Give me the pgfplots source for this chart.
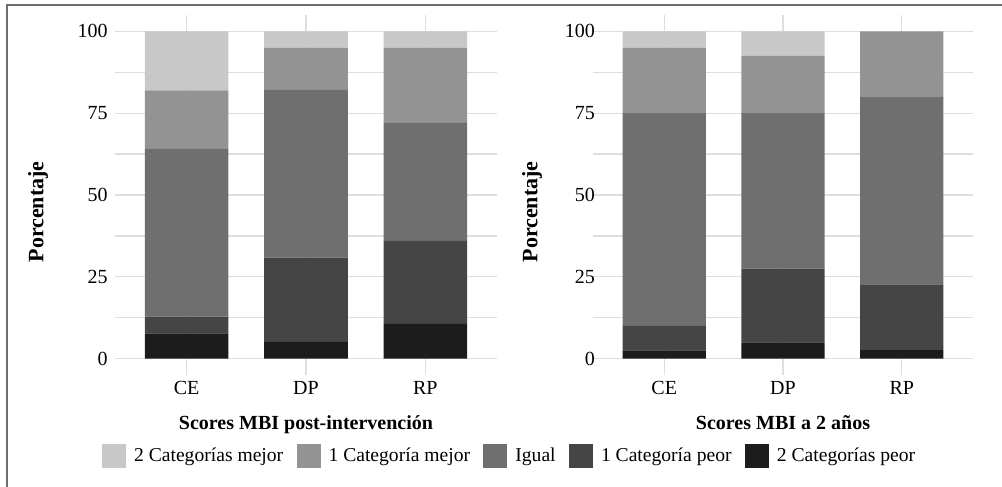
\documentclass[border=0pt]{standalone}
\usepackage{fontspec}
\setmainfont{Liberation Serif}
\usepackage{pgfplots}
\usepackage{pgfplotstable}
\pgfplotsset{compat=1.18}

\definecolor{mejorB}{HTML}{C8C8C8}
\definecolor{mejorA}{HTML}{939393}
\definecolor{igual}{HTML}{6F6F6F}
\definecolor{peorA}{HTML}{454545}
\definecolor{peorB}{HTML}{1C1C1C}
\definecolor{gridc}{HTML}{DEDEDE}
\definecolor{framec}{HTML}{6E6E6E}

% porcentajes por grupo, de abajo hacia arriba
\pgfplotstableread{
x peorB peorA igual mejorA mejorB
0 7.7  5.1  51.3 17.9 18.0
1 5.1  25.8 51.2 12.9 5.0
2 10.6 25.4 36.0 23.0 5.0
}\post
\pgfplotstableread{
x peorB peorA igual mejorA mejorB
0 2.5 7.5  65.0 20.0 5.0
1 5.0 22.5 47.5 17.5 7.5
2 2.6 20.1 57.4 19.9 0.0
}\dosanos

\pgfplotsset{
  mbi/.style={
    scale only axis, height=270pt,
    ybar stacked, bar width=0.7,
    xmin=-0.6, xmax=2.6, ymin=-5, ymax=105,
    xtick={0,1,2}, xticklabels={CE,DP,RP},
    ytick={0,25,50,75,100},
    minor ytick={12.5,37.5,62.5,87.5},
    grid=both,
    major grid style={line width=0.9pt, color=gridc},
    minor grid style={line width=0.9pt, color=gridc},
    axis line style={draw=none}, tick style={draw=none},
    /pgf/number format/assume math mode=true,
    tick label style={font=\fontsize{15}{17}\selectfont},
    xticklabel style={yshift=-1.5pt},
    xlabel style={font=\fontsize{15}{17}\selectfont\bfseries,
      at={(axis description cs:0.5,-0.15)}, anchor=base},
    ylabel style={font=\fontsize{16.5}{18}\selectfont\bfseries},
    ylabel={Porcentaje},
  },
  seg/.style={draw=none, fill=#1},
}

\begin{document}
\begin{tikzpicture}
\useasboundingbox (0,0) rectangle (751.5pt,364.5pt);
\draw[framec, line width=1.3pt] (5.25pt,-20pt) -- (5.25pt,360.75pt) -- (780pt,360.75pt);

\begin{axis}[mbi, width=286.5pt,
  at={(86.25pt,83.25pt)}, anchor=south west,
  xlabel={Scores MBI post-intervención},
  ylabel style={at={(axis description cs:-0.2016,0.453)}, anchor=center},
  yticklabel style={xshift=-2pt},
  reverse legend,
  legend style={at={(axis description cs:1.034,-0.225)}, anchor=center,
    draw=none, fill=none, legend columns=5,
    font=\fontsize{14.7}{17}\selectfont,
    /tikz/every odd column/.append style={column sep=4pt},
    /tikz/every even column/.append style={column sep=8pt}},
  legend image code/.code={\fill[#1] (0pt,-9pt) rectangle (18pt,9pt);},
]
\addplot[seg=peorB] table[x=x,y=peorB] {\post};
\addplot[seg=peorA] table[x=x,y=peorA] {\post};
\addplot[seg=igual] table[x=x,y=igual] {\post};
\addplot[seg=mejorA] table[x=x,y=mejorA] {\post};
\addplot[seg=mejorB] table[x=x,y=mejorB] {\post};
\legend{2 Categorías peor, 1 Categoría peor, Igual, 1 Categoría mejor, 2 Categorías mejor}
\end{axis}

\begin{axis}[mbi, width=285pt,
  at={(444.75pt,83.25pt)}, anchor=south west,
  xlabel={Scores MBI a 2 años},
  ylabel style={at={(axis description cs:-0.16,0.453)}, anchor=center},
  yticklabel style={xshift=5pt},
]
\addplot[seg=peorB] table[x=x,y=peorB] {\dosanos};
\addplot[seg=peorA] table[x=x,y=peorA] {\dosanos};
\addplot[seg=igual] table[x=x,y=igual] {\dosanos};
\addplot[seg=mejorA] table[x=x,y=mejorA] {\dosanos};
\addplot[seg=mejorB] table[x=x,y=mejorB] {\dosanos};
\end{axis}
\end{tikzpicture}
\end{document}
